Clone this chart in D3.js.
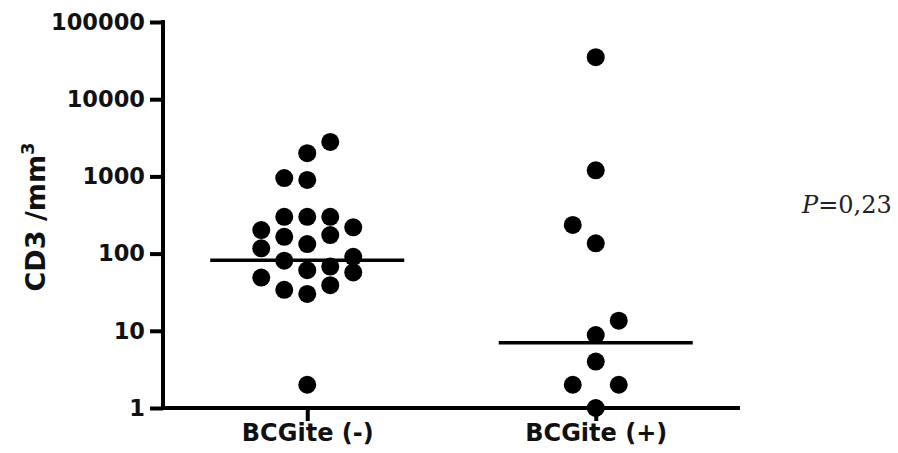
<!DOCTYPE html>
<html>
<head>
<meta charset="utf-8">
<script src="https://cdn.jsdelivr.net/npm/d3@7"></script>
<style>
  body { margin: 0; background: #fff; }
  svg { display: block; }
</style>
</head>
<body>
<div id="chart"></div>
<script>
// groups on the x axis
const groups = ['BCGite (-)', 'BCGite (+)'];

// CD3/mm3 values, with the jitter column Prism put each dot in
const negValues = [2800, 2000, 950, 900, 300, 300, 300, 219, 202, 174, 165, 133, 117, 91, 81, 68, 61, 57, 49, 39, 34, 30, 2];
const negColumns = [1, 0, -1, 0, -1, 0, 1, 2, -2, 1, -1, 0, -2, 2, -1, 1, 0, 2, -2, 1, -1, 0, 0];
const posValues = [35000, 1200, 235, 136, 13.5, 8.8, 4, 2, 2, 1];
const posColumns = [0, 0, -1, 0, 1, 0, 0, -1, 1, 0];

// horizontal line drawn for each group
const centerLines = [82, 7];

const yTicks = [1, 10, 100, 1000, 10000, 100000];
const pLabel = '0,23';

const width = 898, height = 453;
const plot = { left: 163, right: 740, top: 22, bottom: 408 };

const svg = d3.select('#chart').append('svg')
    .attr('width', width)
    .attr('height', height);

const x = d3.scalePoint()
    .domain(groups)
    .range([plot.left, plot.right])
    .padding(0.5);

const y = d3.scaleLog()
    .domain([1, 100000])
    .range([plot.bottom, plot.top]);

// offset of a jitter column from the group centre
const jitter = d3.scaleLinear().domain([-2, 2]).range([-46, 46]);

const points = [
    ...negValues.map((v, i) => ({ group: groups[0], value: v, col: negColumns[i] })),
    ...posValues.map((v, i) => ({ group: groups[1], value: v, col: posColumns[i] }))
];

// y axis
const yAxis = svg.append('g')
    .attr('transform', `translate(${plot.left},0)`)
    .call(d3.axisLeft(y).tickValues(yTicks).tickFormat(d3.format('d')).tickSize(13).tickPadding(5));
yAxis.select('.domain').attr('d', `M0,${plot.top}V${plot.bottom}`).attr('stroke-width', 4).attr('stroke-linecap', 'square');
yAxis.selectAll('.tick line').attr('stroke-width', 4);
yAxis.selectAll('.tick text')
    .style('font-family', '"DejaVu Sans", sans-serif')
    .style('font-weight', 'bold')
    .style('font-size', '22.5px')
    .attr('fill', '#111');

// x axis
const xAxis = svg.append('g')
    .attr('transform', `translate(0,${plot.bottom})`)
    .call(d3.axisBottom(x).tickSize(13).tickPadding(3));
xAxis.select('.domain').attr('d', `M${plot.left},0H${plot.right}`).attr('stroke-width', 4);
xAxis.selectAll('.tick line').attr('stroke-width', 4);
xAxis.selectAll('.tick text')
    .style('font-family', '"DejaVu Sans", sans-serif')
    .style('font-weight', 'bold')
    .style('font-size', '24px')
    .attr('fill', '#111');

// y axis title
const title = svg.append('text')
    .attr('transform', `translate(45,${(plot.top + plot.bottom) / 2 + 2}) rotate(-90)`)
    .attr('text-anchor', 'middle')
    .style('font-family', '"DejaVu Sans", sans-serif')
    .style('font-weight', 'bold')
    .style('font-size', '27px')
    .attr('fill', '#111');
title.append('tspan').text('CD3 /mm');
title.append('tspan').attr('dy', -11).style('font-size', '18px').text('3');

// dots
svg.append('g').selectAll('circle')
    .data(points)
    .join('circle')
    .attr('cx', d => x(d.group) + jitter(d.col))
    .attr('cy', d => y(d.value))
    .attr('r', 9)
    .attr('fill', '#000');

// centre lines
svg.append('g').selectAll('line')
    .data(groups)
    .join('line')
    .attr('x1', d => x(d) - 97)
    .attr('x2', d => x(d) + 97)
    .attr('y1', (d, i) => y(centerLines[i]))
    .attr('y2', (d, i) => y(centerLines[i]))
    .attr('stroke', '#000')
    .attr('stroke-width', 3.5);

// p value
const p = svg.append('text')
    .attr('x', 802)
    .attr('y', 213)
    .style('font-family', '"DejaVu Serif", serif')
    .style('font-size', '24px')
    .attr('fill', '#222');
p.append('tspan').style('font-style', 'italic').text('P');
p.append('tspan').text('=' + pLabel);
</script>
</body>
</html>
